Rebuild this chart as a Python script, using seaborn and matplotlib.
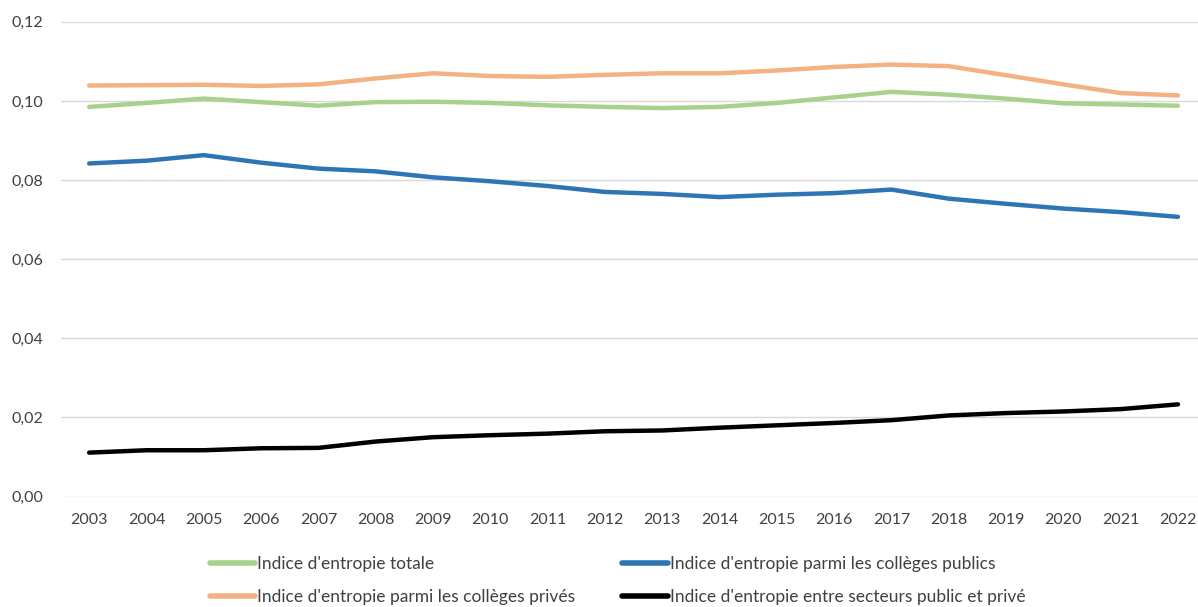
import numpy as np
import pandas as pd
import matplotlib
matplotlib.use("Agg")
import matplotlib.pyplot as plt
import seaborn as sns
from matplotlib.lines import Line2D

years = [str(y) for y in range(2003, 2023)]

totale = [0.0985, 0.0995, 0.1006, 0.0997, 0.0988, 0.0997, 0.0998, 0.0995, 0.0989, 0.0985,
          0.0982, 0.0985, 0.0995, 0.1009, 0.1023, 0.1016, 0.1006, 0.0994, 0.0991, 0.0988]
prives = [0.1039, 0.1040, 0.1041, 0.1038, 0.1042, 0.1057, 0.1070, 0.1063, 0.1061, 0.1066,
          0.1070, 0.1070, 0.1077, 0.1086, 0.1092, 0.1088, 0.1065, 0.1042, 0.1020, 0.1014]
publics = [0.0842, 0.0849, 0.0863, 0.0844, 0.0829, 0.0822, 0.0807, 0.0797, 0.0785, 0.0770,
           0.0765, 0.0757, 0.0763, 0.0767, 0.0776, 0.0753, 0.0740, 0.0728, 0.0719, 0.0707]
entre = [0.0111, 0.0117, 0.0117, 0.0122, 0.0123, 0.0139, 0.0150, 0.0155, 0.0159, 0.0165,
         0.0167, 0.0174, 0.0180, 0.0186, 0.0193, 0.0205, 0.0211, 0.0215, 0.0221, 0.0233]

labels = ["Indice d'entropie totale",
          "Indice d'entropie parmi les collèges privés",
          "Indice d'entropie parmi les collèges publics",
          "Indice d'entropie entre secteurs public et privé"]
colors = ["#a9d18e", "#f4b183", "#2e75b6", "#000000"]

frames = []
for lab, vals in zip(labels, [totale, prives, publics, entre]):
    frames.append(pd.DataFrame({"Année": years, "Valeur": vals, "Série": lab}))
df = pd.concat(frames, ignore_index=True)
df["x"] = df["Année"].map({y: i for i, y in enumerate(years)})

sns.set_style("white")
plt.rcParams['font.family'] = ['Lato', 'DejaVu Sans']

fig = plt.figure(figsize=(11.98, 6.07), dpi=100)
ax = fig.add_axes([0.051, 0.182, 0.949, 0.782])

sns.lineplot(data=df, x="x", y="Valeur", hue="Série", hue_order=labels,
             palette=colors, linewidth=3.2, ax=ax, legend=False, sort=False)

ax.set_xlim(-0.49, 19.35)
ax.set_ylim(0, 0.12)
ax.set_yticks(np.arange(0, 0.121, 0.02))
ax.set_yticklabels([f"{v:.2f}".replace(".", ",") for v in np.arange(0, 0.121, 0.02)])
ax.set_xticks(range(len(years)))
ax.set_xticklabels(years)
ax.tick_params(axis="both", length=0, labelsize=11.5, colors="#404040")
ax.tick_params(axis="x", pad=12)
ax.tick_params(axis="y", pad=13)
ax.grid(axis="y", color="#d9d9d9", linewidth=1)
ax.set_axisbelow(True)
ax.set_xlabel("")
ax.set_ylabel("")
for s in ax.spines.values():
    s.set_visible(False)

# légende sur deux colonnes sous le graphique
handles = [Line2D([0], [0], color=c, linewidth=4) for c in colors]
fig.legend(handles, labels, ncol=2, loc="upper left", bbox_to_anchor=(0.175, 0.084),
           frameon=False, fontsize=12.5, handlelength=2.6, handletextpad=0.15,
           columnspacing=2.7, labelspacing=1.0, borderpad=0, borderaxespad=0,
           labelcolor="#404040")

fig.savefig("out.png", dpi=100)
